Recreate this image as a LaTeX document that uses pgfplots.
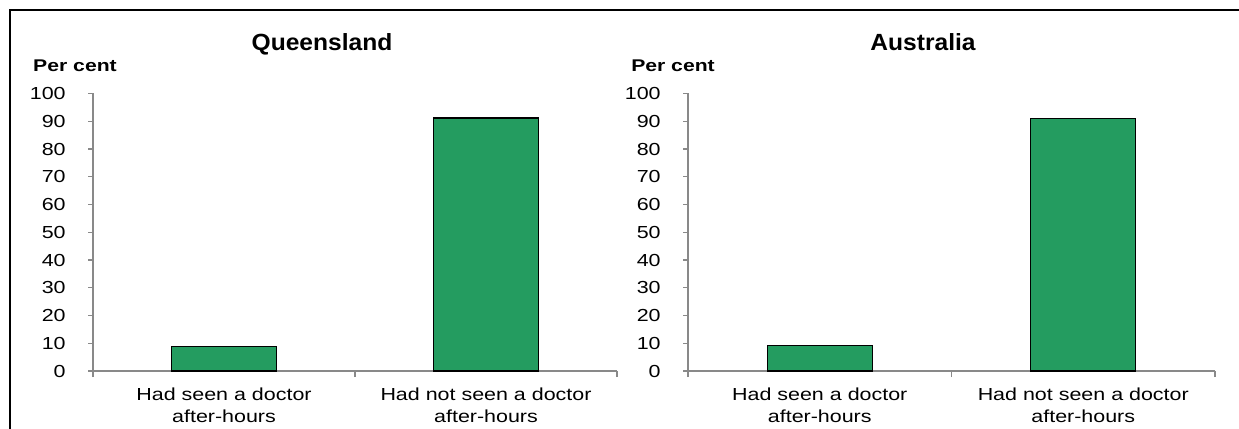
\documentclass[border=0pt]{standalone}
\usepackage{fontspec}
\setmainfont{Liberation Sans}
\usepackage{pgfplots}
\pgfplotsset{compat=1.18}

\definecolor{bargreen}{RGB}{36,156,96}
\definecolor{axisgray}{RGB}{137,137,137}

\pgfplotsset{
  docpanel/.style={
    scale only axis, width=524bp, height=277.5bp,
    xmin=0, xmax=2, ymin=0, ymax=100,
    axis x line=bottom, axis y line=left,
    axis line style={-, draw=axisgray, line width=1.2bp},
    ybar, bar width=105bp,
    xtick={0.5,1.5},
    xticklabels={{Had seen a doctor\\after-hours},{Had not seen a doctor\\after-hours}},
    minor xtick={0,1,2},
    ytick={0,10,...,100},
    tick align=outside,
    major tick length=5bp, minor tick length=6bp,
    every tick/.style={draw=axisgray, line width=1.2bp},
    major x tick style={draw=none},
    /pgf/number format/assume math mode=true,
    tick label style={font=\fontsize{17.5}{21.5}\selectfont, xscale=1.23},
    yticklabel style={anchor=east, inner sep=0pt, xshift=-18bp},
    xticklabel style={align=center, anchor=north, inner sep=0pt, yshift=-12bp},
  }
}

\begin{document}
\begin{tikzpicture}[x=1bp,y=1bp]
\clip (0,0) rectangle (1239,428);

% frame of the figure (cut at right and bottom)
\draw[line width=2.6bp] (10,-20) -- (10,418) -- (1260,418);

\begin{axis}[docpanel, at={(93bp,57bp)}, anchor=south west]
\addplot[fill=bargreen, draw=black, line width=1.3bp] coordinates {(0.5,8.8) (1.5,91.2)};
\end{axis}

\begin{axis}[docpanel, width=527bp, at={(688bp,57bp)}, anchor=south west]
\addplot[fill=bargreen, draw=black, line width=1.3bp] coordinates {(0.5,9.1) (1.5,90.9)};
\end{axis}

\node[anchor=base, font=\bfseries\fontsize{23.5}{27}\selectfont, xscale=1.05, inner sep=0pt] at (322,378) {Queensland};
\node[anchor=base, font=\bfseries\fontsize{23.5}{27}\selectfont, xscale=1.05, inner sep=0pt] at (923,378) {Australia};
\node[anchor=base west, font=\bfseries\fontsize{17}{20}\selectfont, xscale=1.25, inner sep=0pt] at (33,356.5) {Per cent};
\node[anchor=base west, font=\bfseries\fontsize{17}{20}\selectfont, xscale=1.25, inner sep=0pt] at (631,356.5) {Per cent};
\end{tikzpicture}
\end{document}
